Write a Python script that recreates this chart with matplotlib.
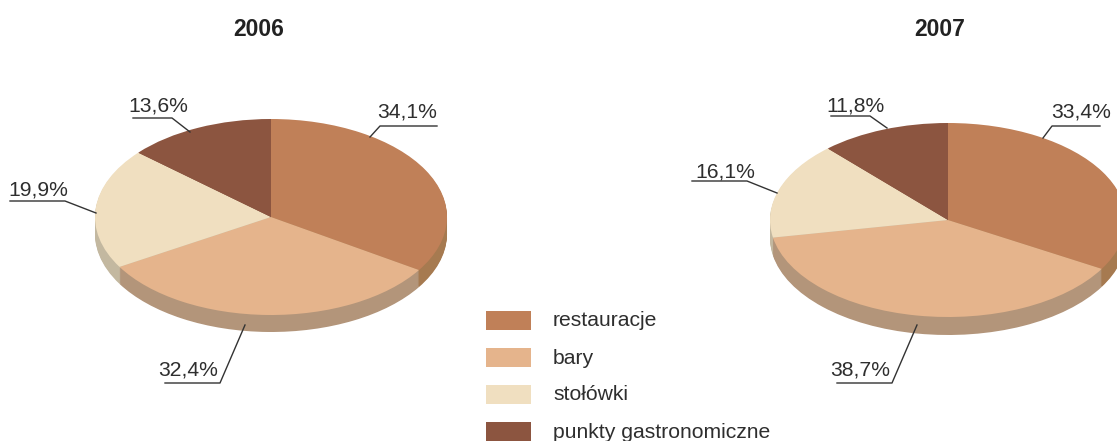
import matplotlib
matplotlib.use('Agg')
import matplotlib.pyplot as plt
from matplotlib.patches import Rectangle

plt.rcParams['font.family'] = ['Liberation Sans', 'DejaVu Sans']

W, H = 1117, 441

categories = ['restauracje', 'bary', 'stołówki', 'punkty gastronomiczne']
values_2006 = [34.1, 32.4, 19.9, 13.6]
values_2007 = [33.4, 38.7, 16.1, 11.8]

top_colors = ['#c08058', '#e5b48c', '#f0dfc0', '#8c5540']
side_colors = ['#a67a50', '#b3957a', '#c3b8a0', '#7a4a38']
text_color = '#2e2e2e'
line_color = '#333333'

fig = plt.figure(figsize=(W / 100, H / 100), dpi=100)

# warstwa w pikselach na podpisy i linie
over = fig.add_axes([0, 0, 1, 1], zorder=5)
over.set_xlim(0, W)
over.set_ylim(H, 0)
over.axis('off')


def draw_pie(values, cx, cy, rx, ry, depth):
    ax = fig.add_axes([(cx - rx) / W, (H - cy - ry - depth) / H, 2 * rx / W, (2 * ry + depth) / H])
    # grubosc placka - kolejne warstwy przesuniete w dol
    for d in range(depth, 0, -1):
        ax.pie(values, colors=side_colors, startangle=90, counterclock=False,
               center=(0, -d / ry), wedgeprops={'linewidth': 0})
    ax.pie(values, colors=top_colors, startangle=90, counterclock=False,
           wedgeprops={'linewidth': 0})
    ax.set_aspect('auto')
    ax.set_xlim(-1, 1)
    ax.set_ylim(-1 - depth / ry, 1)
    ax.axis('off')


def draw_label(value, tx, ty, points):
    over.text(tx, ty, f'{value:.1f}%'.replace('.', ','), ha='center', va='baseline',
              fontsize=15.2, color=text_color)
    over.plot([p[0] for p in points], [p[1] for p in points], color=line_color, lw=1)


draw_pie(values_2006, 271, 217, 176, 98, 17)
draw_pie(values_2007, 948, 220, 178, 97, 18)

over.text(259, 29, '2006', ha='center', va='center', fontsize=16.5, fontweight='bold', color='#222222')
over.text(940, 29, '2007', ha='center', va='center', fontsize=16.5, fontweight='bold', color='#222222')

draw_label(values_2006[0], 407, 118, [(437, 126), (380, 126), (370, 137)])
draw_label(values_2006[1], 188, 376, [(165, 383), (220, 383), (245, 325)])
draw_label(values_2006[2], 38, 195, [(10, 201), (65, 201), (96, 213)])
draw_label(values_2006[3], 158, 112, [(133, 118), (172, 118), (190, 132)])

draw_label(values_2007[0], 1081, 118, [(1100, 126), (1052, 126), (1043, 138)])
draw_label(values_2007[1], 860, 376, [(837, 383), (892, 383), (917, 325)])
draw_label(values_2007[2], 725, 177, [(692, 181), (747, 181), (777, 193)])
draw_label(values_2007[3], 856, 111, [(831, 116), (870, 116), (887, 128)])

# legenda
legend_y = [311, 348, 385, 422]
for name, col, y in zip(categories, top_colors, legend_y):
    over.add_patch(Rectangle((486, y), 45, 19, facecolor=col, edgecolor='none'))
    over.text(553, y + 15.5, name, ha='left', va='baseline', fontsize=15.2, color=text_color)

fig.savefig('out.png', dpi=100)
